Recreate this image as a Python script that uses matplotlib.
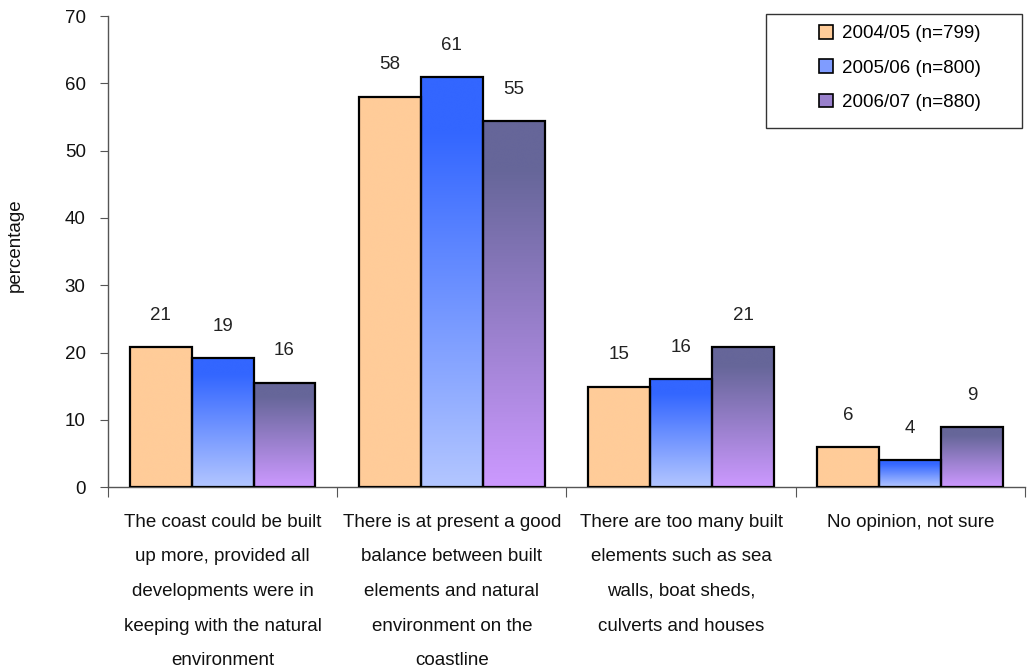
import numpy as np
import matplotlib.pyplot as plt
from matplotlib.colors import LinearSegmentedColormap
from matplotlib.patches import Patch, Rectangle

plt.rcParams['font.family'] = ['Liberation Sans', 'DejaVu Sans']

categories = [
    "The coast could be built\nup more, provided all\ndevelopments were in\nkeeping with the natural\nenvironment",
    "There is at present a good\nbalance between built\nelements and natural\nenvironment on the\ncoastline",
    "There are too many built\nelements such as sea\nwalls, boat sheds,\nculverts and houses",
    "No opinion, not sure",
]
series_names = ["2004/05 (n=799)", "2005/06 (n=800)", "2006/07 (n=880)"]
values_0405 = [20.8, 58.0, 14.9, 5.9]
values_0506 = [19.2, 60.9, 16.0, 4.0]
values_0607 = [15.5, 54.4, 20.8, 8.9]
labels_0405 = ["21", "58", "15", "6"]
labels_0506 = ["19", "61", "16", "4"]
labels_0607 = ["16", "55", "21", "9"]

series = [values_0405, values_0506, values_0607]
series_labels = [labels_0405, labels_0506, labels_0607]
# (top colour, bottom colour) of each series
grads = [("#FFCC99", "#FFCC99"), ("#3366FF", "#B3C6FF"), ("#666699", "#CC99FF")]
legend_colors = ["#FFCC99", "#7F9CFF", "#9980CC"]

fig = plt.figure(figsize=(10.28, 6.71), dpi=100)
ax = fig.add_axes([0.105, 0.274, 0.892, 0.702])

x = np.arange(len(categories))
bw = 0.27
grad = np.linspace(1, 0, 256).reshape(-1, 1)
grad = np.clip(grad * 1.15, 0, 1)

fs = 13.5
for i, (vals, labs, (top, bot)) in enumerate(zip(series, series_labels, grads)):
    cmap = LinearSegmentedColormap.from_list("g%d" % i, [bot, top])
    offs = (i - 1) * bw
    for xi, v, lab in zip(x, vals, labs):
        x0 = xi + offs - bw / 2
        ax.imshow(grad, cmap=cmap, vmin=0, vmax=1, extent=[x0, x0 + bw, 0, v],
                  aspect='auto', origin='upper', zorder=2, interpolation='bicubic')
        ax.bar(xi + offs, v, bw, facecolor='none', edgecolor='black', linewidth=1.6, zorder=3)
        ax.annotate(lab, (xi + offs, v), xytext=(0, 23), textcoords='offset points',
                    ha='center', va='center', fontsize=fs, color='#222222')

ax.set_xlim(-0.5, len(categories) - 0.5)
ax.set_ylim(0, 70)
ax.set_yticks(range(0, 71, 10))
ax.set_xticks(np.arange(-0.5, len(categories), 1.0))
ax.set_xticklabels([])
ax.set_xticks(x, minor=True)
ax.set_xticklabels(categories, minor=True, fontsize=fs, linespacing=2.36, va='top', color='#111111')
ax.tick_params(axis='x', which='minor', length=0, pad=19)
ax.tick_params(axis='x', which='major', length=7, direction='out', color='#555555')
ax.tick_params(axis='y', length=6, direction='out', labelsize=fs, color='#555555', pad=10,
               labelcolor='#111111')

for s in ['top', 'right']:
    ax.spines[s].set_visible(False)
for s in ['left', 'bottom']:
    ax.spines[s].set_color('#555555')
    ax.spines[s].set_linewidth(1.0)

ax.set_ylabel("percentage", fontsize=fs, color='#111111', va='center')
ax.yaxis.set_label_coords(-0.101, 0.514)

# legend frame drawn separately so it can be wider than its content
fig.patches.append(Rectangle((766 / 1028, 1 - 128 / 671), 256 / 1028, 114 / 671,
                             transform=fig.transFigure, facecolor='white',
                             edgecolor='#333333', linewidth=1.0, zorder=1))
handles = [Patch(facecolor=c, edgecolor='black', linewidth=1.2) for c in legend_colors]
leg = fig.legend(handles, series_names, loc='center', bbox_to_anchor=(900 / 1028, 1 - 68 / 671),
                 fontsize=fs, frameon=False, handlelength=0.75, handleheight=0.75,
                 labelspacing=0.9, borderpad=0.0, handletextpad=0.5)

fig.savefig("out.png", dpi=100)
